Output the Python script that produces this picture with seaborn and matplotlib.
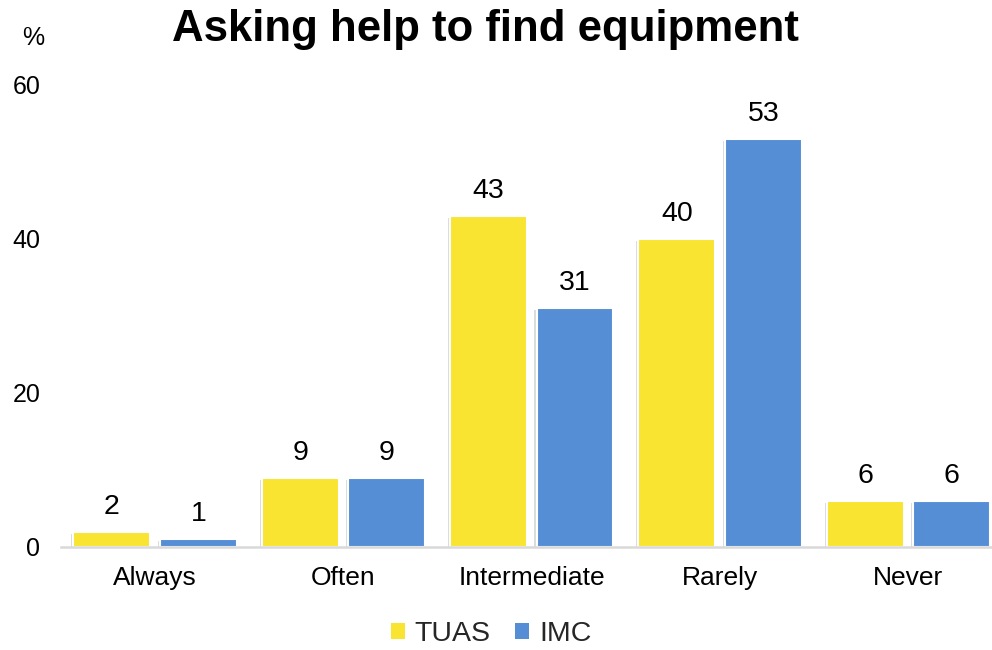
import matplotlib
matplotlib.use("Agg")
import matplotlib.pyplot as plt
import matplotlib.patheffects as pe
from matplotlib.patches import Patch
import seaborn as sns
import pandas as pd

# Survey answers (% of respondents)
categories = ["Always", "Often", "Intermediate", "Rarely", "Never"]
groups = ["TUAS", "IMC"]
tuas_values = [2, 9, 43, 40, 6]
imc_values = [1, 9, 31, 53, 6]
y_ticks = [0, 20, 40, 60]

colors = {"TUAS": "#F8E431", "IMC": "#558ED5"}

df = pd.DataFrame({
    "Answer": categories * 2,
    "Group": [groups[0]] * len(categories) + [groups[1]] * len(categories),
    "Percent": tuas_values + imc_values,
})

sns.set_theme(style="white")
plt.rcParams["font.family"] = ["Liberation Sans", "DejaVu Sans"]

fig = plt.figure(figsize=(9.92, 6.5), dpi=100)
ax = fig.add_axes([61 / 992, 103 / 650, 931 / 992, 462 / 650])

sns.barplot(
    data=df, x="Answer", y="Percent", hue="Group", order=categories,
    hue_order=groups, palette=colors, width=0.918, gap=0.11,
    edgecolor="white", linewidth=1.5, saturation=1, ax=ax, legend=False,
)

shadow = [pe.SimplePatchShadow(offset=(-1.5, -1.5), shadow_rgbFace="#9a9a9a", alpha=0.35), pe.Normal()]
for container in ax.containers:
    for bar in container:
        bar.set_path_effects(shadow)
    ax.bar_label(container, fmt="%g", fontsize=20.5, padding=8.5, color="black")

ax.set_xlim(-0.5, 4.444)
ax.set_ylim(0, 60)
ax.set_yticks(y_ticks)
ax.set_xlabel("")
ax.set_ylabel("")
ax.tick_params(axis="y", length=0, pad=15, labelsize=18, labelcolor="black")
ax.tick_params(axis="x", length=0, pad=14, labelsize=19, labelcolor="black")

for side in ["left", "right", "top"]:
    ax.spines[side].set_visible(False)
ax.spines["bottom"].set_color("#d9d9d9")
ax.spines["bottom"].set_linewidth(1.8)

fig.text(485.5 / 992, 1 - 30 / 650, "Asking help to find equipment",
         ha="center", va="center", fontsize=31.5, fontweight="bold", color="black")
fig.text(33 / 992, 1 - 38 / 650, "%", ha="center", va="center", fontsize=18, color="black")

handles = [Patch(facecolor=colors[g], edgecolor="none") for g in groups]
fig.legend(handles, groups, loc="center", bbox_to_anchor=(491 / 992, 1 - 634 / 650),
           ncol=2, frameon=False, fontsize=20.5, handlelength=0.5, handleheight=0.5,
           handletextpad=0.35, columnspacing=0.85)

fig.savefig("out.png", dpi=100)
